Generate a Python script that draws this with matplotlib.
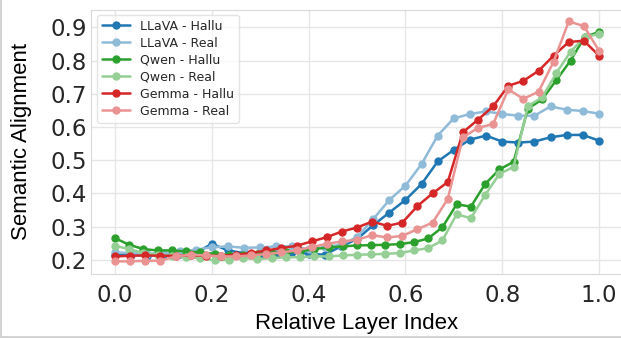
import matplotlib
matplotlib.use('Agg')
import matplotlib.pyplot as plt
import seaborn as sns
import numpy as np
from matplotlib.lines import Line2D

# dane
llava_hallu = [0.215, 0.215, 0.212, 0.215, 0.218, 0.220, 0.248, 0.228, 0.220, 0.215,
               0.218, 0.222, 0.218, 0.215, 0.240, 0.262, 0.304, 0.342, 0.380, 0.428,
               0.496, 0.531, 0.562, 0.574, 0.556, 0.553, 0.556, 0.569, 0.576, 0.576,
               0.559]
llava_real = [0.222, 0.220, 0.218, 0.220, 0.225, 0.230, 0.238, 0.240, 0.236, 0.237,
              0.240, 0.240, 0.232, 0.238, 0.245, 0.268, 0.322, 0.380, 0.423, 0.488,
              0.574, 0.626, 0.639, 0.647, 0.639, 0.634, 0.634, 0.662, 0.652, 0.648,
              0.640]
qwen_hallu = [0.265, 0.245, 0.232, 0.228, 0.228, 0.225, 0.222, 0.218, 0.215, 0.215,
              0.218, 0.220, 0.222, 0.225, 0.232, 0.237, 0.240, 0.243, 0.244, 0.245,
              0.247, 0.253, 0.264, 0.298, 0.367, 0.360, 0.428, 0.472, 0.495, 0.655,
              0.683, 0.741, 0.800, 0.872, 0.886]
qwen_real = [0.242, 0.232, 0.220, 0.215, 0.212, 0.208, 0.205, 0.198, 0.200, 0.205,
             0.202, 0.205, 0.207, 0.208, 0.210, 0.210, 0.213, 0.215, 0.216, 0.218,
             0.220, 0.228, 0.235, 0.258, 0.337, 0.325, 0.395, 0.458, 0.480, 0.663,
             0.689, 0.762, 0.827, 0.871, 0.880]
gemma_hallu = [0.210, 0.212, 0.213, 0.212, 0.212, 0.213, 0.212, 0.212, 0.215, 0.220,
               0.228, 0.235, 0.242, 0.255, 0.268, 0.285, 0.297, 0.315, 0.302, 0.312,
               0.362, 0.400, 0.434, 0.584, 0.622, 0.662, 0.724, 0.739, 0.769, 0.815,
               0.856, 0.860, 0.815]
gemma_real = [0.195, 0.195, 0.197, 0.197, 0.210, 0.215, 0.213, 0.210, 0.210, 0.213,
              0.217, 0.222, 0.228, 0.238, 0.248, 0.255, 0.260, 0.274, 0.267, 0.272,
              0.292, 0.312, 0.383, 0.569, 0.597, 0.609, 0.713, 0.685, 0.706, 0.797,
              0.918, 0.904, 0.830]

serie = [
    ('LLaVA - Hallu', llava_hallu, '#1f77b4'),
    ('LLaVA - Real', llava_real, '#8fbbd9'),
    ('Qwen - Hallu', qwen_hallu, '#2ca02c'),
    ('Qwen - Real', qwen_real, '#95cf95'),
    ('Gemma - Hallu', gemma_hallu, '#d62728'),
    ('Gemma - Real', gemma_real, '#ea9393'),
]

sns.set_style('whitegrid')
plt.rcParams['font.family'] = ['DejaVu Sans']

fig = plt.figure(figsize=(6.21, 3.39), dpi=100)
ax = fig.add_axes([90.8 / 621, 65 / 339, 532.4 / 621, 264.5 / 339])

for nazwa, wartosci, kolor in serie:
    x = np.linspace(0, 1, len(wartosci))
    ax.plot(x, wartosci, marker='o', color=kolor, label=nazwa,
            linewidth=1.8, markersize=5)

ax.set_xlim(-0.05, 1.05)
ax.set_ylim(0.157, 0.954)
ax.set_xticks([0.0, 0.2, 0.4, 0.6, 0.8, 1.0])
ax.set_yticks([0.2, 0.3, 0.4, 0.5, 0.6, 0.7, 0.8, 0.9])
ax.tick_params(axis='both', labelsize=16.5, length=0, colors='#262626')
ax.tick_params(axis='x', pad=7)
ax.tick_params(axis='y', pad=3)
ax.grid(color='#e6e6e6', linewidth=1)
for s in ax.spines.values():
    s.set_color('#d9d9d9')

ax.set_xlabel('Relative Layer Index', fontsize=16, family='Liberation Sans', color='black')
ax.set_ylabel('Semantic Alignment', fontsize=16, family='Liberation Sans', color='black')
ax.xaxis.set_label_coords(0.5, -0.148)
ax.yaxis.set_label_coords(-0.11, 0.5)

ax.legend(loc='upper left', bbox_to_anchor=(0.012, 0.98), borderaxespad=0,
          fontsize=9, labelspacing=0.32, handlelength=2.2, frameon=True,
          edgecolor='#dddddd', fancybox=True)

# ramka wokół rysunku (lewa i dolna krawędź)
fig.add_artist(Line2D([0.002, 0.002], [0.005, 1], transform=fig.transFigure,
                      color='#cccccc', linewidth=1.2))
fig.add_artist(Line2D([0.002, 1], [0.005, 0.005], transform=fig.transFigure,
                      color='#cccccc', linewidth=1.2))

fig.savefig('out.png', dpi=100)
